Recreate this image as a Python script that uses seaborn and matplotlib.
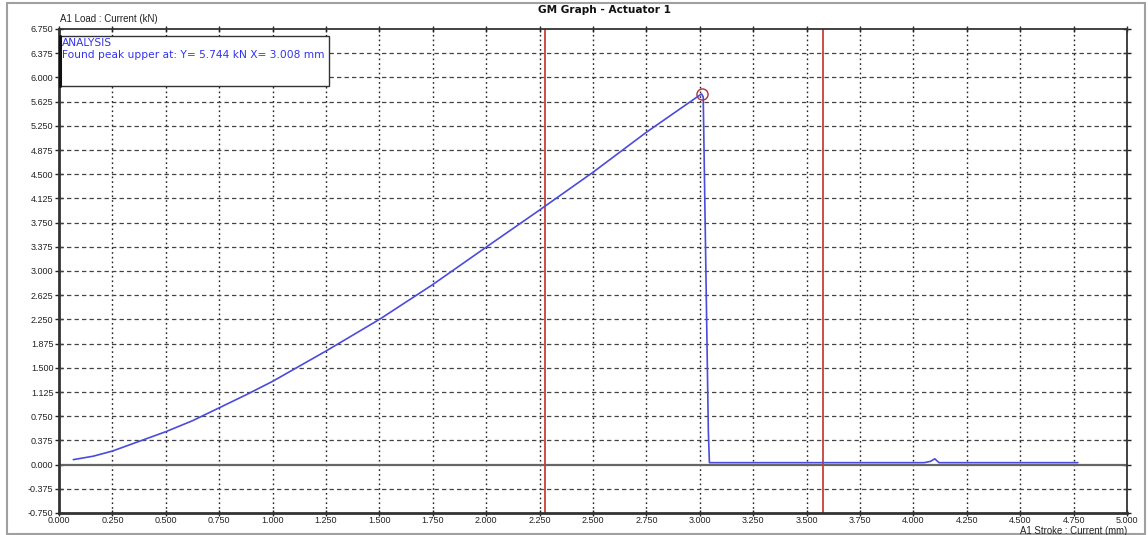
import numpy as np
import pandas as pd
import matplotlib
matplotlib.use("Agg")
import matplotlib.pyplot as plt
from matplotlib.patches import Rectangle
import seaborn as sns

# ---- data ----
stroke_mm = [0.067, 0.16, 0.25, 0.375, 0.5, 0.625, 0.75, 0.875, 1.0, 1.25, 1.5,
             1.75, 2.0, 2.25, 2.5, 2.75, 3.008, 3.016, 3.04, 3.045, 4.05, 4.08,
             4.10, 4.12, 4.77]
load_kn = [0.077, 0.13, 0.21, 0.36, 0.51, 0.68, 0.88, 1.08, 1.29, 1.76, 2.25,
           2.79, 3.37, 3.945, 4.53, 5.15, 5.744, 5.70, 0.52, 0.03, 0.03, 0.05,
           0.09, 0.03, 0.03]
cursor_lines_mm = [2.275, 3.578]
peak_x = 3.008
peak_y = 5.744
x_ticks = [0.0, 0.25, 0.5, 0.75, 1.0, 1.25, 1.5, 1.75, 2.0, 2.25, 2.5, 2.75,
           3.0, 3.25, 3.5, 3.75, 4.0, 4.25, 4.5, 4.75, 5.0]
y_ticks = [-0.75, -0.375, 0.0, 0.375, 0.75, 1.125, 1.5, 1.875, 2.25, 2.625,
           3.0, 3.375, 3.75, 4.125, 4.5, 4.875, 5.25, 5.625, 6.0, 6.375, 6.75]
title = "GM Graph - Actuator 1"
y_label = "A1 Load : Current (kN)"
x_label = "A1 Stroke : Current (mm)"
analysis_lines = ["ANALYSIS", "Found peak upper at: Y= 5.744 kN X= 3.008 mm"]

df = pd.DataFrame({"stroke": stroke_mm, "load": load_kn})

sns.set_style("white")
plt.rcParams["font.family"] = ["Liberation Sans", "DejaVu Sans"]

W, H = 1148, 535
fig = plt.figure(figsize=(W / 100, H / 100), dpi=100)
fig.patch.set_facecolor("white")

# window frame
fig.add_artist(Rectangle((7 / W, 1 / H), 1138 / W, 531 / H, transform=fig.transFigure,
                         fill=False, edgecolor="#a0a0a0", lw=1.5))

AX_TOP, AX_BOT = 29, 513
AX_H = AX_BOT - AX_TOP
ax = fig.add_axes([59 / W, 1 - AX_BOT / H, 1068 / W, AX_H / H])
ax.set_facecolor("white")
ax.set_xlim(0, 5.0)
ax.set_ylim(-0.75, 6.75)

# grid
for xv in x_ticks[1:-1]:
    ax.axvline(xv, color="#222222", lw=1.0, ls=(0, (1.2, 2.2)), zorder=1)
for yv in y_ticks[1:-1]:
    if yv == 0.0:
        continue
    ax.axhline(yv, color="#444444", lw=0.9, ls=(0, (3.5, 2.5)), zorder=1)
ax.axhline(0.0, color="#666666", lw=1.6, zorder=1)

# cursor lines
for xv in cursor_lines_mm:
    ax.axvline(xv, color="#c8403a", lw=1.3, zorder=2)

sns.lineplot(data=df, x="stroke", y="load", sort=False, estimator=None,
             color="#4b4bdc", lw=1.2, ax=ax, zorder=3)
ax.plot([peak_x], [peak_y], marker="o", ms=8, mfc="none", mec="#b03040",
        mew=1.0, zorder=4)

ax.set_xticks(x_ticks)
ax.set_yticks(y_ticks)
ax.set_xticklabels([f"{v:.3f}" for v in x_ticks])
ax.set_yticklabels([f"{v:.3f}" for v in y_ticks])
ax.tick_params(axis="both", which="both", direction="inout", length=6, width=1.0,
               labelsize=6.5, colors="#222222", pad=1,
               top=True, right=True, bottom=True, left=True)
ax.tick_params(axis="x", length=5, pad=0)
ax.set_xlabel("")
ax.set_ylabel("")
for side in ["left", "bottom"]:
    ax.spines[side].set_linewidth(2.0)
    ax.spines[side].set_color("#333333")
for side in ["top", "right"]:
    ax.spines[side].set_linewidth(1.3)
    ax.spines[side].set_color("#333333")

# texts
fig.text(605 / W, 1 - 10 / H, title, ha="center", va="center", fontsize=7.6,
         fontweight="bold", color="#111111", family="DejaVu Sans")
fig.text(60 / W, 1 - 19 / H, y_label, ha="left", va="center", fontsize=7,
         color="#222222")
fig.text(1127 / W, 1 - 531 / H, x_label, ha="right", va="center", fontsize=6.9,
         color="#222222")

# analysis box
box = Rectangle((0.0, 1 - (86 - AX_TOP) / AX_H), 270 / 1068, 50 / AX_H,
                transform=ax.transAxes, facecolor="white", edgecolor="#333333",
                lw=1.0, zorder=5)
ax.add_patch(box)
ax.plot([0.0012, 0.0012], [1 - (86 - AX_TOP) / AX_H, 1 - (36 - AX_TOP) / AX_H],
        transform=ax.transAxes, color="#111111", lw=2.2, zorder=6)
ax.text(3 / 1068, 1 - (43 - AX_TOP) / AX_H, analysis_lines[0], transform=ax.transAxes,
        ha="left", va="center", fontsize=7.7, color="#3333ee", zorder=6,
        family="DejaVu Sans")
ax.text(3 / 1068, 1 - (55 - AX_TOP) / AX_H, analysis_lines[1], transform=ax.transAxes,
        ha="left", va="center", fontsize=7.7, color="#3333ee", zorder=6,
        family="DejaVu Sans")

fig.savefig("out.png", dpi=100, facecolor="white")
